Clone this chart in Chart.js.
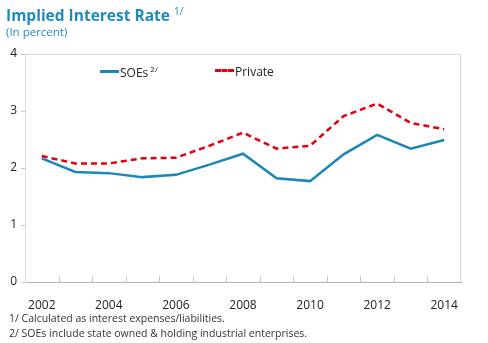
<!DOCTYPE html>
<html>
<head>
<meta charset="utf-8">
<script src="https://cdn.jsdelivr.net/npm/chart.js@4"></script>
<style>
  body { margin: 0; background: #fff; font-family: "Open Sans", "Noto Sans", sans-serif; }
  #wrap { position: relative; width: 488px; height: 343px; }
  #chart { position: absolute; left: 0; top: 0; }
  .title { position: absolute; left: 6px; top: 4px; font-size: 15.5px; font-weight: bold; color: #1f8bbd; }
  .title sup { font-size: 10px; font-weight: normal; vertical-align: 6px; }
  .sub { position: absolute; left: 6px; top: 24px; font-size: 11.5px; color: #1f8bbd; }
  .legend { position: absolute; top: 63px; font-size: 12px; color: #222; }
  .legend sup { font-size: 8px; vertical-align: 5px; margin-left: 2px; }
  .sw { display: inline-block; width: 19px; height: 0; vertical-align: 4px; margin-right: 1px; }
  .note { position: absolute; left: 9px; font-size: 10.5px; color: #333; }
</style>
</head>
<body>
<div id="wrap">
  <canvas id="chart" width="488" height="343"></canvas>
  <div class="title">Implied Interest Rate <sup>1/</sup></div>
  <div class="sub">(In percent)</div>
  <div class="legend" style="left:100px"><span class="sw" style="border-top:3px solid #1b86b8"></span>SOEs<sup>2/</sup></div>
  <div class="legend" style="left:215px"><span class="sw" style="border-top:3px dashed #e3000f"></span>Private</div>
  <div class="note" style="top:311px">1/ Calculated as interest expenses/liabilities.</div>
  <div class="note" style="top:326px">2/ SOEs include state owned &amp; holding industrial enterprises.</div>
</div>
<script>
var years = ['2002', '2003', '2004', '2005', '2006', '2007', '2008', '2009', '2010', '2011', '2012', '2013', '2014'];
var soes = [2.17, 1.93, 1.91, 1.84, 1.88, 2.06, 2.25, 1.82, 1.77, 2.24, 2.58, 2.34, 2.49];
var privateRate = [2.21, 2.08, 2.08, 2.17, 2.18, 2.39, 2.62, 2.34, 2.39, 2.91, 3.13, 2.79, 2.68];
var yTicks = [0, 1, 2, 3, 4];

// frame on top/right plus short inward ticks between the years
var framePlugin = {
    id: 'frame',
    afterDraw: function (chart) {
        var ctx = chart.ctx, a = chart.chartArea, x = chart.scales.x;
        ctx.save();
        ctx.strokeStyle = '#d9d9d9';
        ctx.lineWidth = 1;
        ctx.beginPath();
        ctx.moveTo(a.left, a.top + 0.5);
        ctx.lineTo(a.right - 0.5, a.top + 0.5);
        ctx.lineTo(a.right - 0.5, a.bottom);
        ctx.stroke();
        ctx.strokeStyle = '#c8c8c8';
        ctx.beginPath();
        for (var i = 1; i < years.length; i++) {
            var px = Math.round((x.getPixelForTick(i - 1) + x.getPixelForTick(i)) / 2) + 0.5;
            ctx.moveTo(px, a.bottom);
            ctx.lineTo(px, a.bottom - 6);
        }
        ctx.stroke();
        ctx.restore();
    }
};

var ctx = document.getElementById('chart').getContext('2d');
var chart = new Chart(ctx, {
    type: 'line',
    data: {
        labels: years,
        datasets: [{
            label: 'SOEs',
            data: soes,
            borderColor: '#1b86b8',
            borderWidth: 2.5,
            pointRadius: 0,
            tension: 0
        }, {
            label: 'Private',
            data: privateRate,
            borderColor: '#e3000f',
            borderWidth: 2.5,
            borderDash: [6, 4],
            pointRadius: 0,
            tension: 0
        }]
    },
    options: {
        responsive: false,
        animation: false,
        layout: { padding: { top: 54, right: 27, left: 0, bottom: 33 } },
        plugins: { legend: { display: false }, tooltip: { enabled: false } },
        scales: {
            x: {
                offset: true,
                grid: { display: false },
                border: { color: '#b4b4b4' },
                ticks: { color: '#222', font: { family: 'Open Sans', size: 12 }, padding: 8, maxRotation: 0, autoSkip: false,
                    callback: function (v, i) { return i % 2 === 0 ? years[i] : ''; } },
                afterFit: function (s) { s.height = 28; }
            },
            y: {
                min: yTicks[0],
                max: yTicks[yTicks.length - 1],
                afterBuildTicks: function (s) { s.ticks = yTicks.map(function (v) { return { value: v }; }); },
                grid: { drawOnChartArea: false, tickLength: 4, color: '#c8c8c8' },
                border: { color: '#d9d9d9' },
                ticks: { color: '#222', font: { family: 'Open Sans', size: 12 }, padding: 4 },
                afterFit: function (s) { s.width = 25; }
            }
        }
    },
    plugins: [framePlugin]
});
</script>
</body>
</html>
